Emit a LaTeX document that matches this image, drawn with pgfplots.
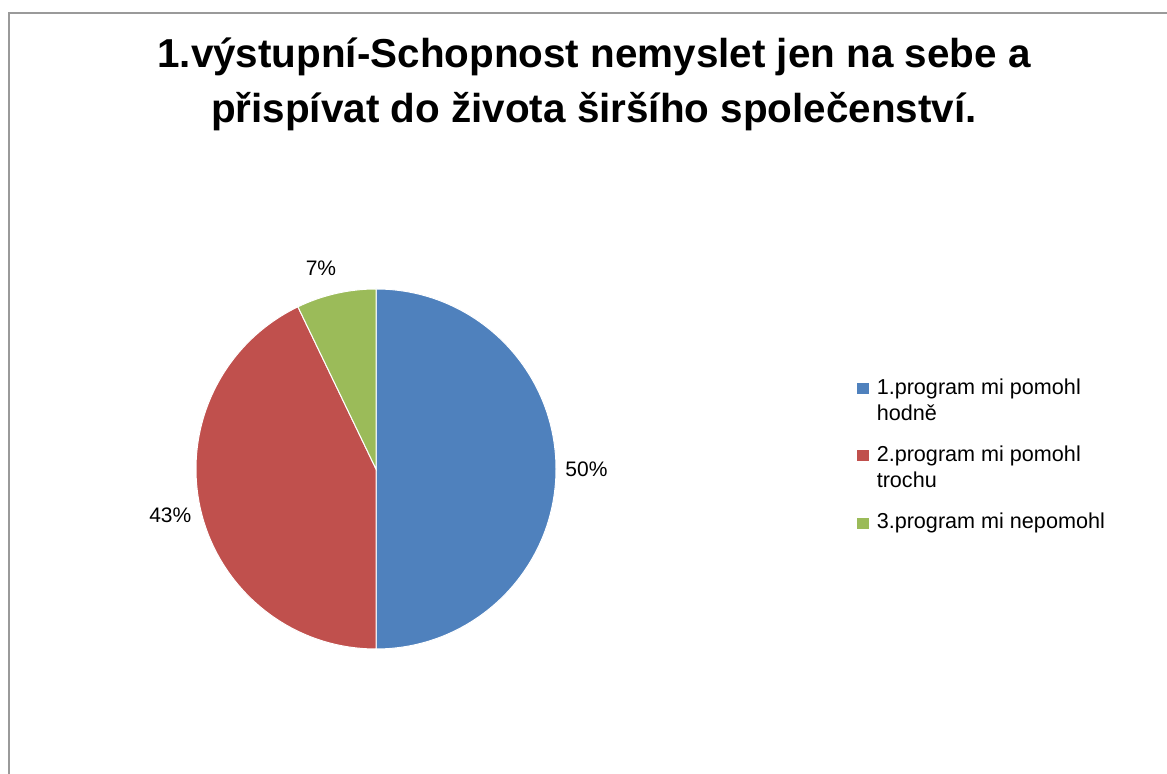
\documentclass[border=0pt]{standalone}
\usepackage{fontspec}
\setmainfont{Liberation Sans}
\usepackage{pgfplots}
\usepackage{pgfplotstable}
\pgfplotsset{compat=1.18}

\definecolor{sliceA}{HTML}{4F81BD}
\definecolor{sliceB}{HTML}{C0504D}
\definecolor{sliceC}{HTML}{9BBB59}
\definecolor{framegray}{HTML}{9A9A9A}

% counts of answers (14 respondents)
\pgfplotstableread{
cat count
1 7
2 6
3 1
}\piedata

\newcommand\entry[1]{\begin{tabular}[t]{@{}l@{}}#1\end{tabular}}

\begin{document}
\begin{tikzpicture}
\useasboundingbox (0,0) rectangle (583.5pt,387pt);

% angles of the slices, clockwise from 12 o'clock
\pgfplotstablegetelem{0}{count}\of\piedata \let\nA\pgfplotsretval
\pgfplotstablegetelem{1}{count}\of\piedata \let\nB\pgfplotsretval
\pgfplotstablegetelem{2}{count}\of\piedata \let\nC\pgfplotsretval
\pgfmathsetmacro\total{\nA+\nB+\nC}
\pgfmathsetmacro\aA{90}
\pgfmathsetmacro\aB{\aA-360*\nA/\total}
\pgfmathsetmacro\aC{\aB-360*\nB/\total}
\pgfmathsetmacro\aD{\aC-360*\nC/\total}
\pgfmathsetmacro\mA{(\aA+\aB)/2}
\pgfmathsetmacro\mB{(\aB+\aC)/2}
\pgfmathsetmacro\mC{(\aC+\aD)/2}
\pgfmathtruncatemacro\lA{\mA+180}
\pgfmathtruncatemacro\lB{\mB+180}
\pgfmathtruncatemacro\lC{\mC+180}
\pgfmathtruncatemacro\pA{round(100*\nA/\total)}
\pgfmathtruncatemacro\pB{round(100*\nB/\total)}
\pgfmathtruncatemacro\pC{round(100*\nC/\total)}

% chart frame (only top and left edges visible)
\draw[framegray, line width=1pt] (4.5pt,0pt) -- (4.5pt,380.5pt) -- (583.5pt,380.5pt);

\node[anchor=base, font=\bfseries\fontsize{20.2}{24}\selectfont] at (297pt,353pt)
  {1.výstupní-Schopnost nemyslet jen na sebe a};
\node[anchor=base, font=\bfseries\fontsize{20.2}{24}\selectfont] at (297pt,325.5pt)
  {přispívat do života širšího společenství.};

\begin{axis}[
  hide axis,
  x=90pt, y=90pt,
  xmin=-1, xmax=1, ymin=-1, ymax=1,
  at={(188pt,152.5pt)}, anchor=origin,
  clip=false,
  legend image code/.code={\fill[#1, draw=none] (0pt,0pt) rectangle (6pt,5.5pt); \path (7.5pt,0pt);},
  legend style={
    draw=none, fill=none,
    at={(axis cs:2.672,0.541)}, anchor=north west,
    font=\fontsize{10.8}{13}\selectfont,
    cells={anchor=base west},
    row sep=19pt, inner sep=0pt,
  },
]
\fill[sliceA, draw=white, line width=0.5pt] (axis cs:0,0) -- (axis cs:{cos(\aA)},{sin(\aA)})
  arc[start angle=\aA, end angle=\aB, radius=90pt] -- cycle;
\fill[sliceB, draw=white, line width=0.5pt] (axis cs:0,0) -- (axis cs:{cos(\aB)},{sin(\aB)})
  arc[start angle=\aB, end angle=\aC, radius=90pt] -- cycle;
\fill[sliceC, draw=white, line width=0.5pt] (axis cs:0,0) -- (axis cs:{cos(\aC)},{sin(\aC)})
  arc[start angle=\aC, end angle=\aD, radius=90pt] -- cycle;

\node[anchor=\lA, inner sep=0pt, font=\fontsize{10.5}{13}\selectfont]
  at (axis cs:{1.05*cos(\mA)},{1.05*sin(\mA)}) {\pA\%};
\node[anchor=\lB, inner sep=0pt, font=\fontsize{10.5}{13}\selectfont]
  at (axis cs:{1.05*cos(\mB)},{1.05*sin(\mB)}) {\pB\%};
\node[anchor=\lC, inner sep=0pt, font=\fontsize{10.5}{13}\selectfont, xshift=-5pt, yshift=1.5pt]
  at (axis cs:{1.08*cos(\mC)},{1.08*sin(\mC)}) {\pC\%};

\addlegendimage{fill=sliceA}
\addlegendentry{\entry{1.program mi pomohl\\hodně}}
\addlegendimage{fill=sliceB}
\addlegendentry{\entry{2.program mi pomohl\\trochu}}
\addlegendimage{fill=sliceC}
\addlegendentry{\entry{3.program mi nepomohl}}
\end{axis}
\end{tikzpicture}
\end{document}
